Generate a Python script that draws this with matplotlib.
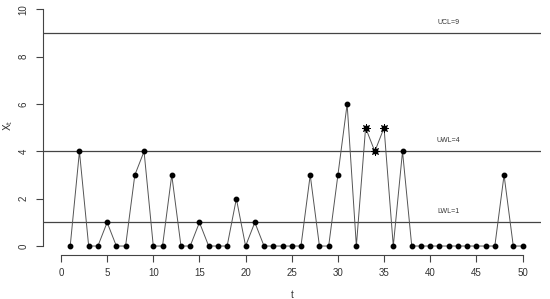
import numpy as np
import matplotlib.pyplot as plt

# Observed counts X_t for t = 1..50
t = list(range(1, 51))
x = [0, 4, 0, 0, 1, 0, 0, 3, 4, 0,
     0, 3, 0, 0, 1, 0, 0, 0, 2, 0,
     1, 0, 0, 0, 0, 0, 3, 0, 0, 3,
     6, 0, 5, 4, 5, 0, 4, 0, 0, 0,
     0, 0, 0, 0, 0, 0, 0, 3, 0, 0]

# points flagged as out of control
flag_t = [33, 34, 35]
flag_x = [5, 4, 5]

# control limits
limit_names = ['UCL', 'UWL', 'LWL']
limit_values = [9, 4, 1]

xticks = list(range(0, 51, 5))
yticks = list(range(0, 11, 2))

grey = '#333333'
plt.rcParams['font.family'] = 'Liberation Sans'

fig = plt.figure(figsize=(5.5, 2.99), dpi=100)
ax = fig.add_axes([0.0773, 0.1455, 0.9063, 0.8545])

for name, val in zip(limit_names, limit_values):
    ax.axhline(val, color='#444444', lw=0.9)
    ax.text(42, val + 0.47, f'{name}={val}', fontsize=5, color=grey,
            ha='center', va='center')

ax.plot(t, x, color='#555555', lw=0.7, marker='o', markersize=3.2,
        markerfacecolor='black', markeredgecolor='black')
ax.plot(flag_t, flag_x, linestyle='none', marker=(8, 2, 0), markersize=6,
        markeredgecolor='black', markeredgewidth=0.7)

ax.set_xlim(-2, 52)
ax.set_ylim(-0.4, 10.4)
ax.set_xticks(xticks)
ax.set_yticks(yticks)
ax.set_yticklabels([str(v) for v in yticks], rotation=90, va='center')

for side in ['top', 'right']:
    ax.spines[side].set_visible(False)
ax.spines['left'].set_bounds(0, 10)
ax.spines['bottom'].set_bounds(0, 50)
for side in ['left', 'bottom']:
    ax.spines[side].set_color('#444444')
    ax.spines[side].set_linewidth(0.8)

ax.tick_params(axis='both', labelsize=7, colors='#444444', labelcolor=grey,
               length=5, width=0.8, direction='out')
ax.tick_params(axis='x', pad=4)
ax.tick_params(axis='y', pad=5)

ax.set_xlabel('t', fontsize=7, color=grey, labelpad=9)
ax.set_ylabel('$\\mathrm{X_t}$', fontsize=7, color=grey)
ax.yaxis.set_label_coords(-0.056, 0.51)

fig.savefig('out.png', dpi=100)
